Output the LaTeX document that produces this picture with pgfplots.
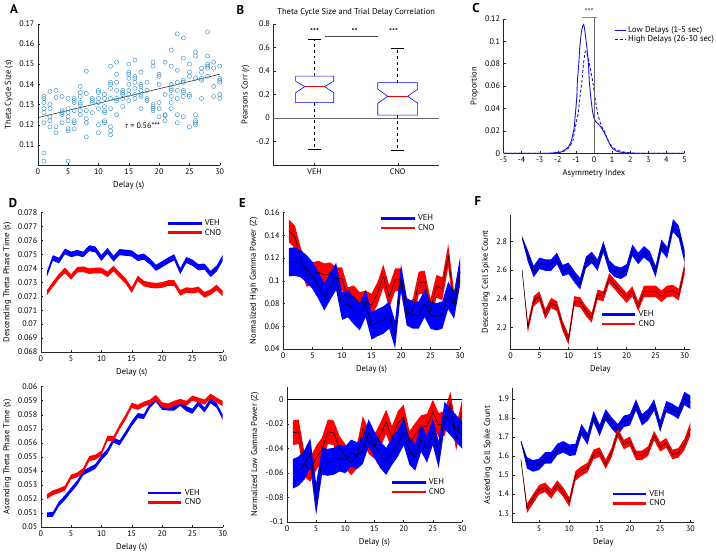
\documentclass[border=0pt]{standalone}
\usepackage{pgfplots}
\pgfplotsset{compat=1.18}
\usepackage{pgfplotstable}
\usepgfplotslibrary{fillbetween}
\usepackage{fontspec}
\setmainfont{PT Sans}
\setsansfont{PT Sans}
\newcommand{\fs}{\fontsize{8.2}{9}\selectfont}
\newcommand{\fl}{\fontsize{8.6}{10}\selectfont}
\definecolor{scat}{RGB}{60,145,205}
\definecolor{mblue}{RGB}{0,0,255}
\definecolor{mred}{RGB}{255,0,0}
\definecolor{cblue}{RGB}{20,20,210}

\pgfplotstableread{
x vm ve cm ce
1 0.07357 0.00019 0.07225 0.00018
2 0.07475 0.00020 0.07286 0.00019
3 0.07456 0.00020 0.07342 0.00019
4 0.07522 0.00020 0.07385 0.00020
5 0.07500 0.00020 0.07338 0.00019
6 0.07512 0.00020 0.07390 0.00020
7 0.07500 0.00020 0.07394 0.00020
8 0.07545 0.00021 0.07380 0.00020
9 0.07536 0.00021 0.07385 0.00020
10 0.07475 0.00021 0.07385 0.00020
11 0.07526 0.00021 0.07357 0.00020
12 0.07470 0.00021 0.07399 0.00020
13 0.07517 0.00022 0.07352 0.00020
14 0.07512 0.00022 0.07310 0.00020
15 0.07507 0.00022 0.07244 0.00020
16 0.07475 0.00022 0.07328 0.00020
17 0.07484 0.00022 0.07291 0.00020
18 0.07450 0.00022 0.07281 0.00020
19 0.07404 0.00022 0.07276 0.00020
20 0.07430 0.00022 0.07281 0.00020
21 0.07456 0.00022 0.07295 0.00020
22 0.07480 0.00022 0.07295 0.00020
23 0.07380 0.00022 0.07225 0.00020
24 0.07460 0.00022 0.07244 0.00020
25 0.07441 0.00022 0.07240 0.00020
26 0.07408 0.00022 0.07249 0.00020
27 0.07413 0.00022 0.07210 0.00020
28 0.07360 0.00022 0.07230 0.00020
29 0.07399 0.00022 0.07262 0.00020
30 0.07475 0.00022 0.07220 0.00020
}\tabDtop

\pgfplotstableread{
x vm ve cm ce
1 0.05087 0.00017 0.05217 0.00017
2 0.05091 0.00017 0.05245 0.00017
3 0.05166 0.00017 0.05259 0.00017
4 0.05210 0.00017 0.05278 0.00017
5 0.05264 0.00017 0.05357 0.00017
6 0.05315 0.00017 0.05371 0.00017
7 0.05386 0.00017 0.05404 0.00017
8 0.05409 0.00017 0.05488 0.00018
9 0.05432 0.00017 0.05498 0.00018
10 0.05493 0.00018 0.05526 0.00018
11 0.05540 0.00018 0.05633 0.00018
12 0.05619 0.00018 0.05629 0.00018
13 0.05600 0.00018 0.05713 0.00018
14 0.05666 0.00018 0.05783 0.00018
15 0.05736 0.00018 0.05867 0.00018
16 0.05794 0.00018 0.05853 0.00018
17 0.05787 0.00018 0.05876 0.00018
18 0.05867 0.00018 0.05890 0.00018
19 0.05909 0.00018 0.05923 0.00018
20 0.05853 0.00018 0.05871 0.00018
21 0.05848 0.00018 0.05862 0.00018
22 0.05848 0.00018 0.05881 0.00018
23 0.05881 0.00018 0.05895 0.00018
24 0.05843 0.00018 0.05881 0.00018
25 0.05825 0.00018 0.05918 0.00018
26 0.05881 0.00018 0.05904 0.00018
27 0.05834 0.00018 0.05890 0.00018
28 0.05900 0.00018 0.05932 0.00018
29 0.05867 0.00018 0.05904 0.00018
30 0.05783 0.00018 0.05881 0.00018
}\tabDbot

\pgfplotstableread{
x vm ve cm ce
1 0.1164 0.0125 0.1440 0.010
2 0.1170 0.0125 0.1388 0.010
3 0.1150 0.012 0.1193 0.010
4 0.1106 0.012 0.1048 0.010
5 0.1048 0.012 0.1062 0.010
6 0.0960 0.012 0.1077 0.010
7 0.0859 0.012 0.1053 0.010
8 0.0952 0.012 0.1062 0.010
9 0.1039 0.012 0.1019 0.010
10 0.0777 0.012 0.1019 0.010
11 0.0800 0.012 0.0844 0.010
12 0.0737 0.012 0.0859 0.010
13 0.0684 0.012 0.0800 0.010
14 0.0800 0.012 0.0815 0.010
15 0.0603 0.012 0.0786 0.010
16 0.0632 0.012 0.0888 0.010
17 0.0655 0.012 0.1042 0.010
18 0.0699 0.012 0.0859 0.010
19 0.0524 0.012 0.1010 0.010
20 0.1027 0.012 0.1010 0.010
21 0.0728 0.012 0.0699 0.010
22 0.0699 0.012 0.0742 0.010
23 0.0699 0.012 0.0981 0.010
24 0.0800 0.012 0.0990 0.010
25 0.0699 0.012 0.0742 0.010
26 0.0684 0.012 0.0952 0.010
27 0.0699 0.012 0.0931 0.010
28 0.0873 0.012 0.1222 0.010
29 0.0786 0.012 0.0800 0.010
30 0.1085 0.012 0.1077 0.010
}\tabEtop

\pgfplotstableread{
x vm ve cm ce
1 -0.0606 0.012 -0.0271 0.010
2 -0.0584 0.012 -0.0263 0.010
3 -0.0531 0.012 -0.0531 0.010
4 -0.0437 0.012 -0.0571 0.010
5 -0.0812 0.013 -0.0477 0.010
6 -0.0504 0.011 -0.0410 0.010
7 -0.0512 0.011 -0.0263 0.010
8 -0.0504 0.011 -0.0271 0.010
9 -0.0477 0.011 -0.0397 0.010
10 -0.0491 0.011 -0.0464 0.010
11 -0.0437 0.011 -0.0517 0.010
12 -0.0458 0.011 -0.0464 0.010
13 -0.0416 0.011 -0.0236 0.010
14 -0.0271 0.011 -0.0343 0.010
15 -0.0370 0.011 -0.0383 0.010
16 -0.0450 0.011 -0.0290 0.010
17 -0.0504 0.011 -0.0182 0.010
18 -0.0424 0.011 -0.0316 0.010
19 -0.0357 0.011 -0.0196 0.010
20 -0.0263 0.011 -0.0142 0.010
21 -0.0424 0.011 -0.0357 0.010
22 -0.0469 0.011 -0.0290 0.010
23 -0.0316 0.011 -0.0228 0.010
24 -0.0405 0.011 -0.0217 0.010
25 -0.0263 0.011 -0.0102 0.010
26 -0.0450 0.011 -0.0209 0.010
27 -0.0129 0.011 -0.0196 0.010
28 -0.0182 0.011 -0.0035 0.010
29 -0.0236 0.011 -0.0316 0.010
30 -0.0290 0.011 -0.0102 0.010
}\tabEbot

\pgfplotstableread{
x vm ve cm ce
2 2.825 0.010 2.600 0.000
3 2.697 0.040 2.198 0.035
4 2.589 0.040 2.382 0.035
5 2.646 0.040 2.416 0.035
6 2.634 0.040 2.290 0.035
7 2.634 0.040 2.370 0.035
8 2.680 0.040 2.347 0.035
9 2.595 0.040 2.209 0.035
10 2.611 0.040 2.113 0.035
11 2.554 0.040 2.382 0.035
12 2.503 0.040 2.375 0.035
13 2.651 0.040 2.313 0.035
14 2.687 0.040 2.267 0.035
15 2.634 0.040 2.428 0.035
16 2.761 0.040 2.416 0.035
17 2.628 0.040 2.543 0.035
18 2.589 0.040 2.497 0.035
19 2.577 0.040 2.451 0.035
20 2.600 0.040 2.405 0.035
21 2.738 0.040 2.451 0.035
22 2.680 0.040 2.347 0.035
23 2.726 0.040 2.451 0.040
24 2.692 0.040 2.451 0.040
25 2.589 0.040 2.451 0.040
26 2.772 0.040 2.416 0.040
27 2.720 0.040 2.451 0.040
28 2.910 0.045 2.455 0.040
29 2.864 0.045 2.428 0.040
30 2.692 0.045 2.611 0.040
}\tabFtop

\pgfplotstableread{
x vm ve cm ce
2 1.678 0.005 1.583 0.000
3 1.565 0.030 1.326 0.025
4 1.548 0.030 1.375 0.025
5 1.557 0.030 1.423 0.025
6 1.591 0.030 1.436 0.025
7 1.591 0.030 1.401 0.025
8 1.635 0.030 1.448 0.025
9 1.649 0.030 1.410 0.025
10 1.631 0.030 1.358 0.025
11 1.635 0.030 1.496 0.025
12 1.739 0.030 1.522 0.025
13 1.690 0.030 1.540 0.025
14 1.808 0.030 1.609 0.025
15 1.735 0.030 1.621 0.025
16 1.817 0.030 1.557 0.025
17 1.774 0.030 1.621 0.025
18 1.739 0.030 1.725 0.025
19 1.783 0.030 1.661 0.025
20 1.791 0.030 1.678 0.025
21 1.869 0.030 1.604 0.025
22 1.791 0.030 1.604 0.025
23 1.817 0.030 1.627 0.025
24 1.869 0.030 1.708 0.025
25 1.757 0.030 1.649 0.025
26 1.860 0.030 1.670 0.025
27 1.846 0.030 1.609 0.025
28 1.825 0.030 1.617 0.025
29 1.903 0.035 1.661 0.030
30 1.883 0.035 1.743 0.035
}\tabFbot

\pgfplotsset{
  mat/.style={
    scale only axis, anchor=south west,
    axis x line*=bottom, axis y line*=left,
    axis line style={-, black!85, line width=0.5pt},
    tick align=inside, major tick length=2.5bp,
    tick style={black!85, line width=0.4pt},
    tick label style={font=\fs},
    label style={font=\fl},
    /pgf/number format/assume math mode=true,
    scaled ticks=false,
    yticklabel style={/pgf/number format/fixed, /pgf/number format/precision=3},
    xticklabel style={/pgf/number format/fixed},
    legend style={draw=none, fill=none, font=\fl, anchor=north west, inner sep=0pt, row sep=-2bp, cells={anchor=west}},
    legend image code/.code={\draw[#1] (0bp,0bp) -- (34bp,0bp);},
    clip=false,
  },
}

\newcommand{\band}[5]{% table, mean col, err col, color, name
  \addplot[name path=#5u, draw=none, forget plot] table[x=x, y expr=\thisrow{#2}+\thisrow{#3}] {#1};
  \addplot[name path=#5l, draw=none, forget plot] table[x=x, y expr=\thisrow{#2}-\thisrow{#3}] {#1};
  \addplot[fill=#4, draw=none, forget plot] fill between[of=#5u and #5l];
}

\begin{document}
\begin{tikzpicture}[x=1bp,y=1bp]
\path (0,0) rectangle (716,555);

% ---------------- A ----------------
\begin{axis}[mat, at={(33bp,388bp)}, width=184bp, height=143bp,
  xmin=0, xmax=30, ymin=0.10, ymax=0.17,
  xtick={0,5,10,15,20,25,30}, ytick={0.11,0.12,0.13,0.14,0.15,0.16,0.17},
  xlabel={Delay (s)}, ylabel={Theta Cycle Size (s)}]
\addplot[only marks, mark=o, mark size=2.1bp, scat, mark options={line width=0.45pt}] coordinates {
(1,0.134)(1,0.133)(1,0.131)(1,0.128)(1,0.126)(1,0.121)(1,0.106)(1,0.102)
(2,0.1365)(2,0.130)(2,0.128)(2,0.124)(2,0.122)(2,0.119)
(3,0.137)(3,0.1335)(3,0.119)(3,0.116)
(4,0.134)(4,0.127)(4,0.126)(4,0.125)(4,0.121)
(5,0.133)(5,0.128)(5,0.126)(5,0.124)(5,0.122)(5,0.118)(5,0.117)(5,0.102)
(6,0.133)(6,0.132)(6,0.131)(6,0.127)(6,0.122)(6,0.121)(6,0.118)
(7,0.139)(7,0.136)(7,0.134)(7,0.131)(7,0.130)(7,0.127)(7,0.125)
(8,0.1465)(8,0.1355)(8,0.127)(8,0.123)(8,0.121)(8,0.114)
(9,0.133)(9,0.132)(9,0.131)(9,0.126)
(10,0.137)(10,0.136)(10,0.133)(10,0.131)(10,0.128)(10,0.120)(10,0.116)
(11,0.135)(11,0.133)(11,0.129)(11,0.127)(11,0.126)(11,0.122)(11,0.121)
(12,0.149)(12,0.141)(12,0.140)(12,0.138)(12,0.133)(12,0.128)(12,0.119)(12,0.117)(12,0.115)
(13,0.151)(13,0.145)(13,0.141)(13,0.137)(13,0.133)(13,0.132)(13,0.125)
(14,0.137)(14,0.136)(14,0.135)(14,0.133)(14,0.129)
(15,0.150)(15,0.146)(15,0.145)(15,0.143)(15,0.140)(15,0.137)(15,0.135)(15,0.132)
(16,0.152)(16,0.144)(16,0.143)(16,0.141)(16,0.138)(16,0.135)(16,0.133)
(17,0.146)(17,0.140)(17,0.139)(17,0.137)(17,0.135)(17,0.134)(17,0.128)
(18,0.141)(18,0.137)(18,0.133)(18,0.132)
(19,0.151)(19,0.149)(19,0.130)(19,0.129)(19,0.128)(19,0.127)
(20,0.145)(20,0.144)(20,0.140)(20,0.131)(20,0.128)(20,0.124)
(21,0.151)(21,0.135)(21,0.125)(21,0.1245)(21,0.122)
(22,0.157)(22,0.149)(22,0.140)(22,0.138)(22,0.137)(22,0.134)(22,0.131)(22,0.128)
(23,0.165)(23,0.147)(23,0.141)(23,0.137)(23,0.133)(23,0.125)(23,0.121)
(24,0.163)(24,0.153)(24,0.142)(24,0.141)(24,0.137)(24,0.136)(24,0.134)(24,0.124)
(25,0.150)(25,0.146)(25,0.144)(25,0.135)(25,0.134)(25,0.119)
(26,0.156)(26,0.154)(26,0.143)(26,0.125)(26,0.122)(26,0.121)(26,0.120)
(27,0.148)(27,0.146)(27,0.143)(27,0.142)(27,0.133)
(28,0.166)(28,0.154)(28,0.150)(28,0.149)(28,0.148)(28,0.144)
(29,0.151)(29,0.148)(29,0.139)(29,0.134)
(30,0.149)(30,0.143)(30,0.142)(30,0.141)(30,0.135)(30,0.133)
};
\addplot[black!80, line width=0.6pt] coordinates {(0,0.1235)(30,0.145)};
\node[font=\fs] at (axis cs:17.3,0.1195) {r = 0.56***};
\end{axis}

% ---------------- B ----------------
\begin{axis}[mat, at={(271bp,388bp)}, width=168bp, height=143bp,
  xmin=0.5, xmax=2.5, ymin=-0.4, ymax=0.8,
  xtick={1,2}, xticklabels={VEH,CNO}, ytick={-0.2,0,0.2,0.4,0.6,0.8},
  ylabel={Pearsons Corr (r)},
  title={Theta Cycle Size and Trial Delay Correlation}, title style={font=\fl, yshift=-2bp}]
\addplot[black!60, line width=0.5pt] coordinates {(0.5,0)(2.5,0)};
% VEH
\addplot[black, dashed, line width=0.6pt] coordinates {(1,0.355)(1,0.668)};
\addplot[black, dashed, line width=0.6pt] coordinates {(1,0.13)(1,-0.267)};
\addplot[black, line width=0.6pt] coordinates {(0.92,0.668)(1.08,0.668)};
\addplot[black, line width=0.6pt] coordinates {(0.92,-0.267)(1.08,-0.267)};
\addplot[mblue, line width=0.6pt] coordinates {(0.77,0.355)(1.23,0.355)(1.23,0.313)(1.12,0.267)(1.23,0.214)(1.23,0.13)(0.77,0.13)(0.77,0.214)(0.88,0.267)(0.77,0.313)(0.77,0.355)};
\addplot[mred, line width=0.6pt] coordinates {(0.88,0.267)(1.12,0.267)};
% CNO
\addplot[black, dashed, line width=0.6pt] coordinates {(2,0.30)(2,0.59)};
\addplot[black, dashed, line width=0.6pt] coordinates {(2,0.025)(2,-0.276)};
\addplot[black, line width=0.6pt] coordinates {(1.92,0.59)(2.08,0.59)};
\addplot[black, line width=0.6pt] coordinates {(1.92,-0.276)(2.08,-0.276)};
\addplot[mblue, line width=0.6pt] coordinates {(1.76,0.30)(2.24,0.30)(2.24,0.245)(2.12,0.185)(2.24,0.125)(2.24,0.025)(1.76,0.025)(1.76,0.125)(1.88,0.185)(1.76,0.245)(1.76,0.30)};
\addplot[mred, line width=0.6pt] coordinates {(1.88,0.185)(2.12,0.185)};
\addplot[black!70, line width=0.5pt] coordinates {(1.12,0.69)(1.76,0.69)};
\node[font=\fl] at (axis cs:1,0.735) {***};
\node[font=\fl] at (axis cs:1.48,0.735) {**};
\node[font=\fl] at (axis cs:1.95,0.735) {***};
\end{axis}

% ---------------- C ----------------
\begin{axis}[mat, at={(504bp,400bp)}, width=183bp, height=136bp,
  xmin=-5, xmax=5, ymin=0, ymax=0.12,
  xtick={-5,-4,-3,-2,-1,0,1,2,3,4,5}, ytick={0,0.02,0.04,0.06,0.08,0.1,0.12},
  xlabel={Asymmetry Index}, ylabel={Proportion},
  legend image code/.code={\draw[#1] (0bp,0bp) -- (11bp,0bp);},
  legend style={at={(0.612,0.96)}}]
\addplot[cblue, line width=0.9pt] coordinates {
(-5,0)(-2.5,0)(-2.1,0.0005)(-1.8,0.0012)(-1.57,0.0036)(-1.4,0.006)(-1.25,0.011)(-1.1,0.022)(-1.03,0.0347)(-0.95,0.05)(-0.92,0.064)(-0.85,0.078)(-0.79,0.094)(-0.7,0.108)(-0.62,0.114)(-0.57,0.115)(-0.52,0.111)(-0.45,0.102)(-0.39,0.094)(-0.3,0.078)(-0.26,0.064)(-0.18,0.05)(-0.08,0.037)(0,0.031)(0.1,0.028)(0.25,0.026)(0.4,0.023)(0.55,0.019)(0.7,0.014)(0.79,0.011)(0.9,0.007)(1.07,0.0036)(1.3,0.0015)(1.7,0.0004)(2.2,0)(5,0)};
\addlegendentry{Low Delays (1-5 sec)}
\addplot[cblue, line width=0.9pt, dash pattern=on 3bp off 2bp] coordinates {
(-5,0)(-2.5,0)(-2.0,0.0005)(-1.7,0.0015)(-1.45,0.004)(-1.3,0.007)(-1.17,0.011)(-1.07,0.0198)(-0.95,0.03)(-0.88,0.0347)(-0.78,0.05)(-0.67,0.064)(-0.58,0.08)(-0.5,0.09)(-0.45,0.091)(-0.38,0.088)(-0.32,0.086)(-0.2,0.075)(-0.07,0.064)(0.05,0.05)(0.21,0.0347)(0.35,0.027)(0.45,0.023)(0.57,0.0198)(0.68,0.015)(0.79,0.011)(0.95,0.007)(1.15,0.004)(1.5,0.0015)(2,0.0004)(2.5,0)(5,0)};
\addlegendentry{High Delays (26-30 sec)}
\draw[black!60, line width=0.6pt] (axis cs:0,0) -- (axis cs:0,0.1215);
\draw[black!45, line width=1.2pt] (axis cs:-0.68,0.1215) -- (axis cs:0.14,0.1215);
\node[font=\fl, black!70] at (axis cs:-0.27,0.1265) {***};
\end{axis}

% ---------------- D top ----------------
\begin{axis}[mat, at={(36bp,199bp)}, width=184bp, height=141bp,
  xmin=0, xmax=30, ymin=0.068, ymax=0.078,
  xtick={0,5,10,15,20,25,30},
  ytick={0.068,0.069,0.07,0.071,0.072,0.073,0.074,0.075,0.076,0.077,0.078},
  xlabel={Delay (s)}, ylabel={Descending Theta Phase Time (s)},
  legend style={at={(0.69,0.965)}}]
\addlegendimage{mblue, line width=2.8bp}\addlegendentry{VEH}
\addlegendimage{mred, line width=2.8bp}\addlegendentry{CNO}
\band{\tabDtop}{vm}{ve}{mblue}{dtv}
\band{\tabDtop}{cm}{ce}{mred}{dtc}
\end{axis}

% ---------------- D bottom ----------------
\begin{axis}[mat, at={(36bp,22bp)}, width=184bp, height=142bp,
  xmin=0, xmax=30, ymin=0.05, ymax=0.06,
  xtick={0,5,10,15,20,25,30},
  ytick={0.05,0.051,0.052,0.053,0.054,0.055,0.056,0.057,0.058,0.059,0.06},
  xlabel={Delay (s)}, ylabel={Ascending Theta Phase Time (s)},
  legend style={at={(0.58,0.285)}}]
\addlegendimage{mblue, line width=2.8bp}\addlegendentry{VEH}
\addlegendimage{mred, line width=2.8bp}\addlegendentry{CNO}
\band{\tabDbot}{vm}{ve}{mblue}{dbv}
\band{\tabDbot}{cm}{ce}{mred}{dbc}
\end{axis}

% ---------------- E top ----------------
\begin{axis}[mat, at={(281bp,202bp)}, width=179bp, height=138bp,
  xmin=0, xmax=30, ymin=0.04, ymax=0.16,
  xtick={0,5,10,15,20,25,30},
  ytick={0.04,0.06,0.08,0.1,0.12,0.14,0.16},
  xlabel={Delay (s)}, ylabel={Normalized High Gamma Power (Z)},
  legend style={at={(0.547,1.0)}}]
\addlegendimage{mblue, line width=2.4bp}\addlegendentry{VEH}
\addlegendimage{mred, line width=2.4bp}\addlegendentry{CNO}
\band{\tabEtop}{cm}{ce}{mred}{etc}
\addplot[black, line width=0.5pt, forget plot] table[x=x,y=cm] {\tabEtop};
\band{\tabEtop}{vm}{ve}{mblue}{etv}
\addplot[black, line width=0.5pt, forget plot] table[x=x,y=vm] {\tabEtop};
\end{axis}

% ---------------- E bottom ----------------
\begin{axis}[mat, at={(285bp,27bp)}, width=177bp, height=137bp,
  xmin=0, xmax=30, ymin=-0.1, ymax=0.0105,
  xtick={0,5,10,15,20,25,30},
  ytick={-0.1,-0.08,-0.06,-0.04,-0.02,0},
  xlabel={Delay (s)}, ylabel={Normalized Low Gamma Power (Z)},
  legend style={at={(0.593,0.335)}}]
\addlegendimage{mblue, line width=2.4bp}\addlegendentry{VEH}
\addlegendimage{mred, line width=2.4bp}\addlegendentry{CNO}
\addplot[black, line width=0.5pt, forget plot] coordinates {(0,0)(30,0)};
\band{\tabEbot}{cm}{ce}{mred}{ebc}
\addplot[black, line width=0.5pt, forget plot] table[x=x,y=cm] {\tabEbot};
\band{\tabEbot}{vm}{ve}{mblue}{ebv}
\addplot[black, line width=0.5pt, forget plot] table[x=x,y=vm] {\tabEbot};
\end{axis}

% ---------------- F top ----------------
\begin{axis}[mat, at={(511bp,202bp)}, width=182bp, height=136bp,
  xmin=0, xmax=31, ymin=2.048, ymax=2.986,
  xtick={0,5,10,15,20,25,30},
  ytick={2.2,2.4,2.6,2.8},
  xlabel={Delay}, ylabel={Descending Cell Spike Count},
  legend style={at={(0.5,0.3)}}]
\addlegendimage{mblue, line width=2.4bp}\addlegendentry{VEH}
\addlegendimage{mred, line width=2.4bp}\addlegendentry{CNO}
\band{\tabFtop}{vm}{ve}{mblue}{ftv}
\addplot[black, line width=0.5pt, forget plot] table[x=x,y=vm] {\tabFtop};
\band{\tabFtop}{cm}{ce}{mred}{ftc}
\addplot[black, line width=0.5pt, forget plot] table[x=x,y=cm] {\tabFtop};
\end{axis}

% ---------------- F bottom ----------------
\begin{axis}[mat, at={(513bp,27bp)}, width=184bp, height=136bp,
  xmin=0.6, xmax=30.65, ymin=1.253, ymax=1.96,
  xtick={5,10,15,20,25,30},
  ytick={1.3,1.4,1.5,1.6,1.7,1.8,1.9},
  xlabel={Delay}, ylabel={Ascending Cell Spike Count},
  legend style={at={(0.543,0.252)}}]
\addlegendimage{mblue, line width=2.4bp}\addlegendentry{VEH}
\addlegendimage{mred, line width=2.4bp}\addlegendentry{CNO}
\band{\tabFbot}{vm}{ve}{mblue}{fbv}
\addplot[black, line width=0.5pt, forget plot] table[x=x,y=vm] {\tabFbot};
\band{\tabFbot}{cm}{ce}{mred}{fbc}
\addplot[black, line width=0.5pt, forget plot] table[x=x,y=cm] {\tabFbot};
\end{axis}

% panel letters
\begin{scope}[every node/.style={font=\fontsize{13}{13}\selectfont\bfseries}]
\node at (9,546) {A};
\node at (238,545) {B};
\node at (476,547) {C};
\node at (8,350) {D};
\node at (240,350) {E};
\node at (478,352) {F};
\end{scope}
\end{tikzpicture}
\end{document}
